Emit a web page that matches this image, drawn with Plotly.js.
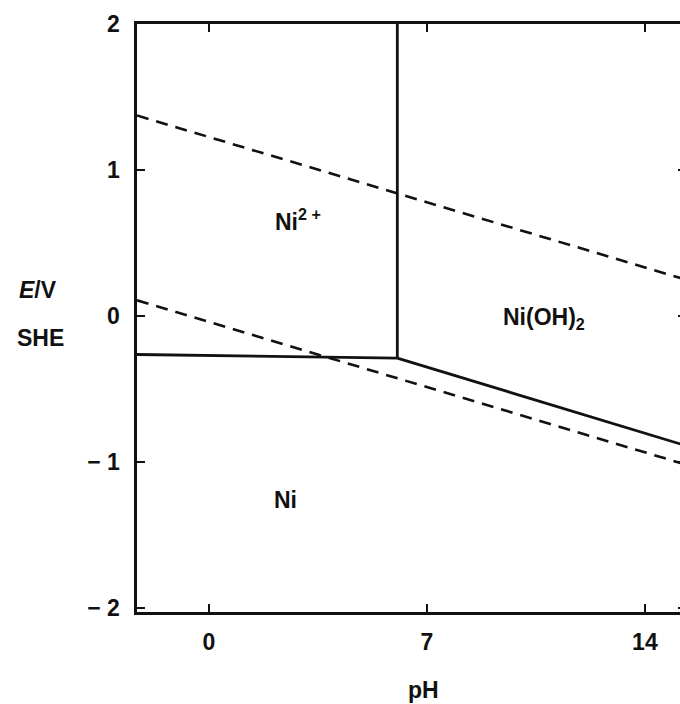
<!DOCTYPE html>
<html>
<head>
<meta charset="utf-8">
<script src="https://cdn.plot.ly/plotly-3.0.1.min.js"></script>
<style>
html,body{margin:0;padding:0;overflow:hidden;background:#fff;}
#chart{width:700px;height:704px;}
</style>
</head>
<body>
<div id="chart"></div>
<script>
// Boundary lines (pH, E/V vs SHE)
const ni2NiPH = [-2.31, 6.05];
const ni2NiE = [-0.265, -0.29];
const ni2HydPH = [6.05, 6.05];
const ni2HydE = [-0.29, 2.0];
const hydNiPH = [6.05, 15.32];
const hydNiE = [-0.29, -0.89];
const o2PH = [-2.31, 15.32];
const o2E = [1.373, 0.247];
const h2PH = [-2.31, 15.32];
const h2E = [0.106, -1.02];

const xTickVals = [0, 7, 14];
const xTickText = ['0', '7', '14'];
const yTickVals = [-2, -1, 0, 1, 2];
const yTickText = ['\u2212 2', '\u2212 1', '0', '1', '2'];

const regionLabels = ['Ni<sup>2 +</sup>', 'Ni(OH)<sub>2</sub>', 'Ni'];
const regionPH = [2.85, 10.75, 2.45];
const regionE = [0.655, -0.02, -1.26];

const F = 'Liberation Sans, Arial, Helvetica, sans-serif';
const FS = 23;
const font = {family: F, size: FS, weight: 'bold', color: '#111'};
const solid = {color: '#111', width: 2.8};
const dashed = {color: '#111', width: 2.6, dash: '12px,8px'};

const traces = [
  {x: ni2NiPH, y: ni2NiE, mode: 'lines', line: solid},
  {x: ni2HydPH, y: ni2HydE, mode: 'lines', line: solid},
  {x: hydNiPH, y: hydNiE, mode: 'lines', line: solid},
  {x: o2PH, y: o2E, mode: 'lines', line: dashed},
  {x: h2PH, y: h2E, mode: 'lines', line: dashed}
];

const annotations = regionLabels.map((t, i) => ({
  x: regionPH[i], y: regionE[i], xref: 'x', yref: 'y', text: t, showarrow: false, font: font
}));
annotations.push({x: -0.2186, xref: 'paper', xanchor: 'left', y: 0.548, yref: 'paper', yanchor: 'middle',
  showarrow: false, text: '<i>E</i>/V', font: font});
annotations.push({x: -0.222, xref: 'paper', xanchor: 'left', y: 0.466, yref: 'paper', yanchor: 'middle',
  showarrow: false, text: 'SHE', font: font});
annotations.push({x: 0.5217, xref: 'paper', y: -0.133, yref: 'paper', yanchor: 'middle',
  showarrow: false, text: 'pH', font: font});

const layout = {
  width: 700, height: 704,
  margin: {l: 137, r: 14, t: 24, b: 92},
  paper_bgcolor: '#fff', plot_bgcolor: '#fff',
  showlegend: false,
  xaxis: {
    range: [-2.31, 15.32], tickvals: xTickVals, ticktext: xTickText,
    ticks: 'inside', ticklen: 8, tickwidth: 2, tickcolor: '#111',
    showline: true, linecolor: '#111', linewidth: 2.6, mirror: 'ticks',
    showgrid: false, zeroline: false, ticklabelstandoff: 8,
    tickfont: font
  },
  yaxis: {
    range: [-2.03, 2.0], tickvals: yTickVals, ticktext: yTickText,
    ticks: 'inside', ticklen: 8, tickwidth: 2, tickcolor: '#111',
    showline: true, linecolor: '#111', linewidth: 2.6, mirror: 'ticks',
    showgrid: false, zeroline: false, ticklabelstandoff: 10,
    tickfont: font
  },
  annotations: annotations
};

Plotly.newPlot('chart', traces, layout, {staticPlot: true, displayModeBar: false});
</script>
</body>
</html>
